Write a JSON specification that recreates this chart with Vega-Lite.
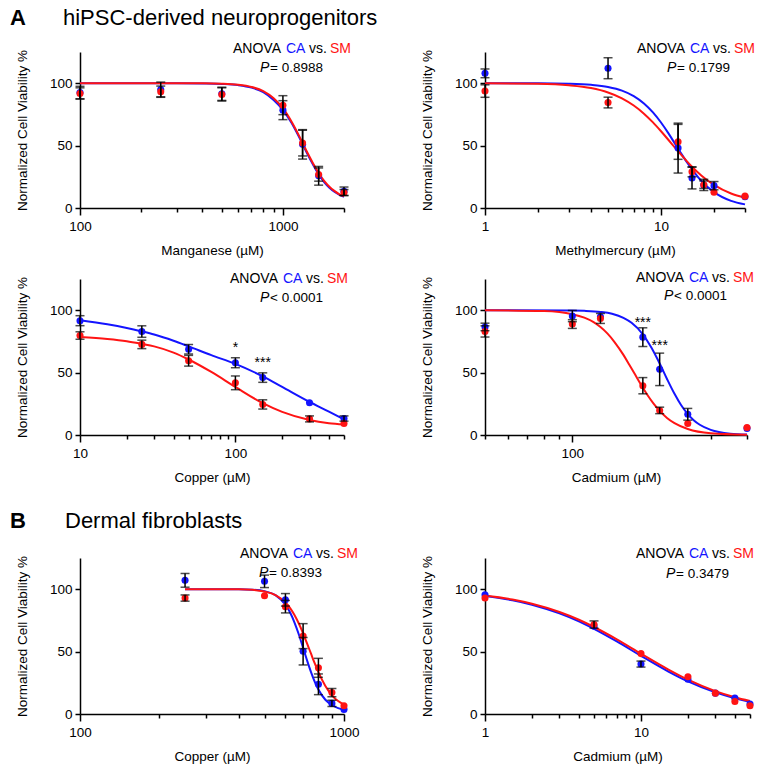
{
  "$schema": "https://vega.github.io/schema/vega-lite/v6.json",
  "background": "white",
  "padding": {"left": 10, "top": 7, "right": 5, "bottom": 5},
  "datasets": {
    "notes": [
      {"panel":"Mn","pvalue":"= 0.8988"},
      {"panel":"MeHg","pvalue":"= 0.1799"},
      {"panel":"CuA","pvalue":"< 0.0001"},
      {"panel":"CdA","pvalue":"< 0.0001"},
      {"panel":"CuB","pvalue":"= 0.8393"},
      {"panel":"CdB","pvalue":"= 0.3479"}
    ],
    "points": [
      {"panel":"Mn","group":"CA","conc":100,"viability":92.5,"err":5},
      {"panel":"Mn","group":"CA","conc":250,"viability":95,"err":5.9},
      {"panel":"Mn","group":"CA","conc":500,"viability":91.5,"err":5.3},
      {"panel":"Mn","group":"CA","conc":1000,"viability":78.4,"err":7.6},
      {"panel":"Mn","group":"CA","conc":1250,"viability":51,"err":11.8},
      {"panel":"Mn","group":"CA","conc":1500,"viability":25.8,"err":7.5},
      {"panel":"Mn","group":"CA","conc":2000,"viability":13.4,"err":3.4},
      {"panel":"Mn","group":"SM","conc":100,"viability":91.8,"err":4.5},
      {"panel":"Mn","group":"SM","conc":250,"viability":93.2,"err":4.5},
      {"panel":"Mn","group":"SM","conc":500,"viability":91,"err":5.3},
      {"panel":"Mn","group":"SM","conc":1000,"viability":82.4,"err":7.6},
      {"panel":"Mn","group":"SM","conc":1250,"viability":52,"err":10.3},
      {"panel":"Mn","group":"SM","conc":1500,"viability":26.8,"err":5.3},
      {"panel":"Mn","group":"SM","conc":2000,"viability":12.4,"err":2.4},
      {"panel":"MeHg","group":"CA","conc":1,"viability":107.9,"err":3.5},
      {"panel":"MeHg","group":"CA","conc":5,"viability":112,"err":8.4},
      {"panel":"MeHg","group":"CA","conc":12.5,"viability":48,"err":20},
      {"panel":"MeHg","group":"CA","conc":15,"viability":24,"err":8.7},
      {"panel":"MeHg","group":"CA","conc":17.5,"viability":18.5,"err":4.5},
      {"panel":"MeHg","group":"CA","conc":20,"viability":17.9,"err":3.3},
      {"panel":"MeHg","group":"CA","conc":30,"viability":9,"err":1},
      {"panel":"MeHg","group":"SM","conc":1,"viability":93.7,"err":5},
      {"panel":"MeHg","group":"SM","conc":5,"viability":84.5,"err":4.3},
      {"panel":"MeHg","group":"SM","conc":12.5,"viability":53,"err":14},
      {"panel":"MeHg","group":"SM","conc":15,"viability":29,"err":4},
      {"panel":"MeHg","group":"SM","conc":17.5,"viability":18.7,"err":3},
      {"panel":"MeHg","group":"SM","conc":20,"viability":12.6,"err":2},
      {"panel":"MeHg","group":"SM","conc":30,"viability":9.5,"err":1},
      {"panel":"CuA","group":"CA","conc":10,"viability":91.6,"err":4},
      {"panel":"CuA","group":"CA","conc":25,"viability":82.9,"err":4.6},
      {"panel":"CuA","group":"CA","conc":50,"viability":68.7,"err":3.8},
      {"panel":"CuA","group":"CA","conc":100,"viability":57.9,"err":4},
      {"panel":"CuA","group":"CA","conc":150,"viability":46,"err":3.8},
      {"panel":"CuA","group":"CA","conc":300,"viability":25.8,"err":1},
      {"panel":"CuA","group":"CA","conc":500,"viability":13.2,"err":2.1},
      {"panel":"CuA","group":"SM","conc":10,"viability":79.7,"err":3},
      {"panel":"CuA","group":"SM","conc":25,"viability":72.6,"err":3.4},
      {"panel":"CuA","group":"SM","conc":50,"viability":59.5,"err":4.3},
      {"panel":"CuA","group":"SM","conc":100,"viability":41.8,"err":5.5},
      {"panel":"CuA","group":"SM","conc":150,"viability":24.5,"err":3.7},
      {"panel":"CuA","group":"SM","conc":300,"viability":12.9,"err":2.4},
      {"panel":"CuA","group":"SM","conc":500,"viability":9.2,"err":1},
      {"panel":"CdA","group":"CA","conc":50,"viability":86.6,"err":3},
      {"panel":"CdA","group":"CA","conc":100,"viability":95.3,"err":4.5},
      {"panel":"CdA","group":"CA","conc":125,"viability":94.7,"err":2},
      {"panel":"CdA","group":"CA","conc":175,"viability":78.4,"err":7.5},
      {"panel":"CdA","group":"CA","conc":200,"viability":52.6,"err":13},
      {"panel":"CdA","group":"CA","conc":250,"viability":16.6,"err":4.7},
      {"panel":"CdA","group":"CA","conc":400,"viability":5.3,"err":1},
      {"panel":"CdA","group":"SM","conc":50,"viability":83,"err":4.5},
      {"panel":"CdA","group":"SM","conc":100,"viability":88.9,"err":3.5},
      {"panel":"CdA","group":"SM","conc":125,"viability":93.4,"err":4},
      {"panel":"CdA","group":"SM","conc":175,"viability":39.5,"err":6.5},
      {"panel":"CdA","group":"SM","conc":200,"viability":19.7,"err":2.6},
      {"panel":"CdA","group":"SM","conc":250,"viability":9.2,"err":2},
      {"panel":"CdA","group":"SM","conc":400,"viability":6,"err":1},
      {"panel":"CuB","group":"CA","conc":250,"viability":107.1,"err":5.5},
      {"panel":"CuB","group":"CA","conc":500,"viability":106.3,"err":5},
      {"panel":"CuB","group":"CA","conc":600,"viability":91.5,"err":5},
      {"panel":"CuB","group":"CA","conc":700,"viability":50.3,"err":11},
      {"panel":"CuB","group":"CA","conc":800,"viability":23.8,"err":8.3},
      {"panel":"CuB","group":"CA","conc":900,"viability":8.5,"err":2.5},
      {"panel":"CuB","group":"CA","conc":1000,"viability":3.7,"err":1},
      {"panel":"CuB","group":"SM","conc":250,"viability":92.9,"err":2.5},
      {"panel":"CuB","group":"SM","conc":500,"viability":94.7,"err":1},
      {"panel":"CuB","group":"SM","conc":600,"viability":86,"err":5},
      {"panel":"CuB","group":"SM","conc":700,"viability":62.4,"err":10},
      {"panel":"CuB","group":"SM","conc":800,"viability":37,"err":7.6},
      {"panel":"CuB","group":"SM","conc":900,"viability":17.2,"err":3.3},
      {"panel":"CuB","group":"SM","conc":1000,"viability":6.6,"err":1},
      {"panel":"CdB","group":"CA","conc":1,"viability":95.5,"err":1},
      {"panel":"CdB","group":"CA","conc":5,"viability":70.4,"err":2},
      {"panel":"CdB","group":"CA","conc":10,"viability":40,"err":2.4},
      {"panel":"CdB","group":"CA","conc":20,"viability":27.8,"err":1},
      {"panel":"CdB","group":"CA","conc":30,"viability":16.7,"err":0.8},
      {"panel":"CdB","group":"CA","conc":40,"viability":12.7,"err":1},
      {"panel":"CdB","group":"CA","conc":50,"viability":8,"err":1},
      {"panel":"CdB","group":"SM","conc":1,"viability":92.9,"err":1},
      {"panel":"CdB","group":"SM","conc":5,"viability":71.7,"err":2.9},
      {"panel":"CdB","group":"SM","conc":10,"viability":48.4,"err":1},
      {"panel":"CdB","group":"SM","conc":20,"viability":29.9,"err":1.5},
      {"panel":"CdB","group":"SM","conc":30,"viability":16.7,"err":0.8},
      {"panel":"CdB","group":"SM","conc":40,"viability":10,"err":1},
      {"panel":"CdB","group":"SM","conc":50,"viability":6.6,"err":1}
    ],
    "curves": [
      {"panel":"Mn","group":"CA","conc":100,"viability":100},{"panel":"Mn","group":"CA","conc":200,"viability":100},{"panel":"Mn","group":"CA","conc":300,"viability":100},{"panel":"Mn","group":"CA","conc":400,"viability":99.8},{"panel":"Mn","group":"CA","conc":500,"viability":99.4},{"panel":"Mn","group":"CA","conc":600,"viability":98.5},{"panel":"Mn","group":"CA","conc":700,"viability":96.5},{"panel":"Mn","group":"CA","conc":800,"viability":92.8},{"panel":"Mn","group":"CA","conc":900,"viability":86.5},{"panel":"Mn","group":"CA","conc":1000,"viability":78.5},{"panel":"Mn","group":"CA","conc":1100,"viability":68.5},{"panel":"Mn","group":"CA","conc":1200,"viability":57},{"panel":"Mn","group":"CA","conc":1300,"viability":45.5},{"panel":"Mn","group":"CA","conc":1400,"viability":35.5},{"panel":"Mn","group":"CA","conc":1500,"viability":27},{"panel":"Mn","group":"CA","conc":1600,"viability":20.5},{"panel":"Mn","group":"CA","conc":1700,"viability":16},{"panel":"Mn","group":"CA","conc":1800,"viability":12.8},{"panel":"Mn","group":"CA","conc":1900,"viability":10.5},{"panel":"Mn","group":"CA","conc":2000,"viability":9},
      {"panel":"Mn","group":"SM","conc":100,"viability":100},{"panel":"Mn","group":"SM","conc":200,"viability":100},{"panel":"Mn","group":"SM","conc":300,"viability":100},{"panel":"Mn","group":"SM","conc":400,"viability":99.9},{"panel":"Mn","group":"SM","conc":500,"viability":99.6},{"panel":"Mn","group":"SM","conc":600,"viability":98.8},{"panel":"Mn","group":"SM","conc":700,"viability":97},{"panel":"Mn","group":"SM","conc":800,"viability":93.7},{"panel":"Mn","group":"SM","conc":900,"viability":88},{"panel":"Mn","group":"SM","conc":1000,"viability":80},{"panel":"Mn","group":"SM","conc":1100,"viability":69.5},{"panel":"Mn","group":"SM","conc":1200,"viability":58},{"panel":"Mn","group":"SM","conc":1300,"viability":46.5},{"panel":"Mn","group":"SM","conc":1400,"viability":36.5},{"panel":"Mn","group":"SM","conc":1500,"viability":28},{"panel":"Mn","group":"SM","conc":1600,"viability":21.5},{"panel":"Mn","group":"SM","conc":1700,"viability":16.8},{"panel":"Mn","group":"SM","conc":1800,"viability":13.5},{"panel":"Mn","group":"SM","conc":1900,"viability":11},{"panel":"Mn","group":"SM","conc":2000,"viability":9.5},
      {"panel":"MeHg","group":"CA","conc":1,"viability":100},{"panel":"MeHg","group":"CA","conc":2,"viability":100},{"panel":"MeHg","group":"CA","conc":3,"viability":99.6},{"panel":"MeHg","group":"CA","conc":4,"viability":98.7},{"panel":"MeHg","group":"CA","conc":5,"viability":97},{"panel":"MeHg","group":"CA","conc":6,"viability":94.1},{"panel":"MeHg","group":"CA","conc":7,"viability":89.7},{"panel":"MeHg","group":"CA","conc":8,"viability":83.8},{"panel":"MeHg","group":"CA","conc":9,"viability":76.6},{"panel":"MeHg","group":"CA","conc":10,"viability":68.5},{"panel":"MeHg","group":"CA","conc":11,"viability":60},{"panel":"MeHg","group":"CA","conc":12,"viability":51.6},{"panel":"MeHg","group":"CA","conc":13,"viability":43.8},{"panel":"MeHg","group":"CA","conc":14,"viability":36.9},{"panel":"MeHg","group":"CA","conc":15,"viability":31},{"panel":"MeHg","group":"CA","conc":17,"viability":21.5},{"panel":"MeHg","group":"CA","conc":20,"viability":12.7},{"panel":"MeHg","group":"CA","conc":25,"viability":5.7},{"panel":"MeHg","group":"CA","conc":30,"viability":2.9},
      {"panel":"MeHg","group":"SM","conc":1,"viability":99.9},{"panel":"MeHg","group":"SM","conc":2,"viability":99.5},{"panel":"MeHg","group":"SM","conc":3,"viability":98.3},{"panel":"MeHg","group":"SM","conc":4,"viability":96.1},{"panel":"MeHg","group":"SM","conc":5,"viability":92.6},{"panel":"MeHg","group":"SM","conc":6,"viability":87.9},{"panel":"MeHg","group":"SM","conc":7,"viability":82.1},{"panel":"MeHg","group":"SM","conc":8,"viability":75.6},{"panel":"MeHg","group":"SM","conc":9,"viability":68.6},{"panel":"MeHg","group":"SM","conc":10,"viability":61.5},{"panel":"MeHg","group":"SM","conc":11,"viability":54.7},{"panel":"MeHg","group":"SM","conc":12,"viability":48.4},{"panel":"MeHg","group":"SM","conc":13,"viability":42.7},{"panel":"MeHg","group":"SM","conc":14,"viability":37.6},{"panel":"MeHg","group":"SM","conc":15,"viability":33.1},{"panel":"MeHg","group":"SM","conc":17,"viability":25.9},{"panel":"MeHg","group":"SM","conc":20,"viability":18.5},{"panel":"MeHg","group":"SM","conc":25,"viability":11.6},{"panel":"MeHg","group":"SM","conc":30,"viability":8.2},
      {"panel":"CuA","group":"CA","conc":10,"viability":92},{"panel":"CuA","group":"CA","conc":15,"viability":88.8},{"panel":"CuA","group":"CA","conc":20,"viability":85.8},{"panel":"CuA","group":"CA","conc":25,"viability":83},{"panel":"CuA","group":"CA","conc":30,"viability":80.5},{"panel":"CuA","group":"CA","conc":40,"viability":75.5},{"panel":"CuA","group":"CA","conc":50,"viability":71},{"panel":"CuA","group":"CA","conc":70,"viability":64},{"panel":"CuA","group":"CA","conc":100,"viability":57},{"panel":"CuA","group":"CA","conc":150,"viability":47},{"panel":"CuA","group":"CA","conc":200,"viability":38.5},{"panel":"CuA","group":"CA","conc":300,"viability":26.5},{"panel":"CuA","group":"CA","conc":400,"viability":18.7},{"panel":"CuA","group":"CA","conc":500,"viability":12.5},
      {"panel":"CuA","group":"SM","conc":10,"viability":78.5},{"panel":"CuA","group":"SM","conc":15,"viability":77},{"panel":"CuA","group":"SM","conc":20,"viability":75.2},{"panel":"CuA","group":"SM","conc":25,"viability":73},{"panel":"CuA","group":"SM","conc":30,"viability":71},{"panel":"CuA","group":"SM","conc":40,"viability":66},{"panel":"CuA","group":"SM","conc":50,"viability":60.5},{"panel":"CuA","group":"SM","conc":70,"viability":50.5},{"panel":"CuA","group":"SM","conc":100,"viability":38.5},{"panel":"CuA","group":"SM","conc":150,"viability":25.5},{"panel":"CuA","group":"SM","conc":200,"viability":18.5},{"panel":"CuA","group":"SM","conc":300,"viability":12},{"panel":"CuA","group":"SM","conc":400,"viability":9.5},{"panel":"CuA","group":"SM","conc":500,"viability":8.5},
      {"panel":"CdA","group":"CA","conc":50,"viability":100},{"panel":"CdA","group":"CA","conc":100,"viability":99.8},{"panel":"CdA","group":"CA","conc":110,"viability":99.5},{"panel":"CdA","group":"CA","conc":125,"viability":98.6},{"panel":"CdA","group":"CA","conc":137,"viability":97.1},{"panel":"CdA","group":"CA","conc":150,"viability":93.9},{"panel":"CdA","group":"CA","conc":160,"viability":89.9},{"panel":"CdA","group":"CA","conc":175,"viability":80.7},{"panel":"CdA","group":"CA","conc":187,"viability":70.3},{"panel":"CdA","group":"CA","conc":200,"viability":57.3},{"panel":"CdA","group":"CA","conc":212,"viability":44.9},{"panel":"CdA","group":"CA","conc":225,"viability":33},{"panel":"CdA","group":"CA","conc":237,"viability":24},{"panel":"CdA","group":"CA","conc":250,"viability":16.7},{"panel":"CdA","group":"CA","conc":262,"viability":11.9},{"panel":"CdA","group":"CA","conc":275,"viability":8.2},{"panel":"CdA","group":"CA","conc":300,"viability":4.1},{"panel":"CdA","group":"CA","conc":350,"viability":1.1},{"panel":"CdA","group":"CA","conc":400,"viability":0.4},
      {"panel":"CdA","group":"SM","conc":50,"viability":100},{"panel":"CdA","group":"SM","conc":80,"viability":99.3},{"panel":"CdA","group":"SM","conc":100,"viability":96.8},{"panel":"CdA","group":"SM","conc":110,"viability":94},{"panel":"CdA","group":"SM","conc":118,"viability":90.6},{"panel":"CdA","group":"SM","conc":125,"viability":86.5},{"panel":"CdA","group":"SM","conc":132,"viability":81.4},{"panel":"CdA","group":"SM","conc":140,"viability":74.3},{"panel":"CdA","group":"SM","conc":150,"viability":64.2},{"panel":"CdA","group":"SM","conc":157,"viability":56.5},{"panel":"CdA","group":"SM","conc":163,"viability":50},{"panel":"CdA","group":"SM","conc":175,"viability":37.8},{"panel":"CdA","group":"SM","conc":182,"viability":31.6},{"panel":"CdA","group":"SM","conc":190,"viability":25.5},{"panel":"CdA","group":"SM","conc":200,"viability":19.3},{"panel":"CdA","group":"SM","conc":212,"viability":13.7},{"panel":"CdA","group":"SM","conc":225,"viability":9.5},{"panel":"CdA","group":"SM","conc":250,"viability":4.8},{"panel":"CdA","group":"SM","conc":300,"viability":1.4},{"panel":"CdA","group":"SM","conc":400,"viability":0.2},
      {"panel":"CuB","group":"CA","conc":250,"viability":100},{"panel":"CuB","group":"CA","conc":300,"viability":100},{"panel":"CuB","group":"CA","conc":400,"viability":99.9},{"panel":"CuB","group":"CA","conc":450,"viability":99.6},{"panel":"CuB","group":"CA","conc":500,"viability":98.4},{"panel":"CuB","group":"CA","conc":550,"viability":95.3},{"panel":"CuB","group":"CA","conc":600,"viability":87.6},{"panel":"CuB","group":"CA","conc":625,"viability":81.3},{"panel":"CuB","group":"CA","conc":650,"viability":73.1},{"panel":"CuB","group":"CA","conc":675,"viability":63.5},{"panel":"CuB","group":"CA","conc":700,"viability":53},{"panel":"CuB","group":"CA","conc":725,"viability":42.8},{"panel":"CuB","group":"CA","conc":750,"viability":33.6},{"panel":"CuB","group":"CA","conc":775,"viability":25.8},{"panel":"CuB","group":"CA","conc":800,"viability":19.6},{"panel":"CuB","group":"CA","conc":850,"viability":11.4},{"panel":"CuB","group":"CA","conc":900,"viability":7.2},{"panel":"CuB","group":"CA","conc":950,"viability":4.7},{"panel":"CuB","group":"CA","conc":1000,"viability":3.5},
      {"panel":"CuB","group":"SM","conc":250,"viability":100},{"panel":"CuB","group":"SM","conc":400,"viability":99.9},{"panel":"CuB","group":"SM","conc":450,"viability":99.5},{"panel":"CuB","group":"SM","conc":500,"viability":98.1},{"panel":"CuB","group":"SM","conc":550,"viability":95.3},{"panel":"CuB","group":"SM","conc":600,"viability":89.4},{"panel":"CuB","group":"SM","conc":625,"viability":84.9},{"panel":"CuB","group":"SM","conc":650,"viability":79.2},{"panel":"CuB","group":"SM","conc":675,"viability":72.3},{"panel":"CuB","group":"SM","conc":700,"viability":64.6},{"panel":"CuB","group":"SM","conc":725,"viability":56.4},{"panel":"CuB","group":"SM","conc":750,"viability":48.3},{"panel":"CuB","group":"SM","conc":775,"viability":40.5},{"panel":"CuB","group":"SM","conc":800,"viability":33.5},{"panel":"CuB","group":"SM","conc":850,"viability":22.4},{"panel":"CuB","group":"SM","conc":900,"viability":15},{"panel":"CuB","group":"SM","conc":950,"viability":10.4},{"panel":"CuB","group":"SM","conc":1000,"viability":7.6},
      {"panel":"CdB","group":"CA","conc":1,"viability":94.6},{"panel":"CdB","group":"CA","conc":1.5,"viability":91.1},{"panel":"CdB","group":"CA","conc":2,"viability":87.6},{"panel":"CdB","group":"CA","conc":3,"viability":80.6},{"panel":"CdB","group":"CA","conc":4,"viability":74.2},{"panel":"CdB","group":"CA","conc":5,"viability":68.2},{"panel":"CdB","group":"CA","conc":7,"viability":58.1},{"panel":"CdB","group":"CA","conc":10,"viability":46.6},{"panel":"CdB","group":"CA","conc":15,"viability":34},{"panel":"CdB","group":"CA","conc":20,"viability":26.1},{"panel":"CdB","group":"CA","conc":30,"viability":17.3},{"panel":"CdB","group":"CA","conc":40,"viability":12.6},{"panel":"CdB","group":"CA","conc":50,"viability":9.7},
      {"panel":"CdB","group":"SM","conc":1,"viability":94.9},{"panel":"CdB","group":"SM","conc":1.5,"viability":91.7},{"panel":"CdB","group":"SM","conc":2,"viability":88.3},{"panel":"CdB","group":"SM","conc":3,"viability":81.7},{"panel":"CdB","group":"SM","conc":4,"viability":75.5},{"panel":"CdB","group":"SM","conc":5,"viability":69.7},{"panel":"CdB","group":"SM","conc":7,"viability":59.8},{"panel":"CdB","group":"SM","conc":10,"viability":48.3},{"panel":"CdB","group":"SM","conc":15,"viability":35.6},{"panel":"CdB","group":"SM","conc":20,"viability":27.5},{"panel":"CdB","group":"SM","conc":30,"viability":18.3},{"panel":"CdB","group":"SM","conc":40,"viability":13.4},{"panel":"CdB","group":"SM","conc":50,"viability":10.4}
    ]
  },
  "spacing": 26,
  "vconcat": [
    {
      "spacing": 14,
      "vconcat": [
        {
          "spacing": 141,
          "bounds": "flush",
          "hconcat": [
            {
              "width": 264, "height": 156,
              "title": {"text": "A", "fontWeight": "bold", "dx": -70, "offset": 12},
              "layer": [
                {
                  "encoding": {
                    "x": {"field": "conc", "type": "quantitative", "scale": {"type": "log", "domain": [100, 2000], "nice": false},
                      "axis": {"title": "Manganese (µM)", "values": [100,200,300,400,500,600,700,800,900,1000,2000], "format": "d",
                        "labelExpr": "abs(log(datum.value)/LN10 - round(log(datum.value)/LN10)) < 0.000001 ? datum.label : ''",
                        "tickSize": {"condition": {"test": "abs(log(datum.value)/LN10 - round(log(datum.value)/LN10)) < 0.000001", "value": 7}, "value": 4}}},
                    "y": {"field": "viability", "type": "quantitative", "scale": {"domain": [0, 125], "nice": false}, "axis": {"values": [0, 50, 100], "title": "Normalized Cell Viability %"}}
                  },
                  "layer": [
                    {"data": {"name": "curves"}, "transform": [{"filter": "datum.panel === 'Mn'"}], "mark": {"type": "line", "strokeWidth": 2, "interpolate": "monotone"}, "encoding": {"color": {"field": "group", "type": "nominal", "scale": {"domain": ["CA", "SM"], "range": ["#1414ff", "#ff1414"]}, "legend": null}}},
                    {"data": {"name": "points"}, "transform": [{"filter": "datum.panel === 'Mn'"}], "mark": {"type": "circle", "size": 50, "opacity": 1}, "encoding": {"color": {"field": "group", "type": "nominal", "scale": {"domain": ["CA", "SM"], "range": ["#1414ff", "#ff1414"]}, "legend": null}}},
                    {"data": {"name": "points"}, "transform": [{"filter": "datum.panel === 'Mn' && datum.err > 2"}], "mark": {"type": "errorbar", "ticks": {"size": 9}, "thickness": 1.5, "color": "black"}, "encoding": {"yError": {"field": "err"}}}
                  ]
                },
                {"data": {"name": "notes"}, "transform": [{"filter": "datum.panel === 'Mn'"}], "mark": {"type": "text", "text": "ANOVA", "align": "left", "baseline": "alphabetic", "fontSize": 14, "dx": -111, "dy": 1, "color": "black"}, "encoding": {"x": {"datum": 2000}, "y": {"datum": 125}}},
                {"data": {"name": "notes"}, "transform": [{"filter": "datum.panel === 'Mn'"}], "mark": {"type": "text", "text": "CA", "align": "left", "baseline": "alphabetic", "fontSize": 14, "dx": -58, "dy": 1, "color": "#1414ff"}, "encoding": {"x": {"datum": 2000}, "y": {"datum": 125}}},
                {"data": {"name": "notes"}, "transform": [{"filter": "datum.panel === 'Mn'"}], "mark": {"type": "text", "text": "vs.", "align": "left", "baseline": "alphabetic", "fontSize": 14, "dx": -35, "dy": 1, "color": "black"}, "encoding": {"x": {"datum": 2000}, "y": {"datum": 125}}},
                {"data": {"name": "notes"}, "transform": [{"filter": "datum.panel === 'Mn'"}], "mark": {"type": "text", "text": "SM", "align": "left", "baseline": "alphabetic", "fontSize": 14, "dx": -14, "dy": 1, "color": "#ff1414"}, "encoding": {"x": {"datum": 2000}, "y": {"datum": 125}}},
                {"data": {"name": "notes"}, "transform": [{"filter": "datum.panel === 'Mn'"}], "mark": {"type": "text", "text": "P", "fontStyle": "italic", "align": "left", "baseline": "alphabetic", "fontSize": 14, "dx": -84, "dy": 20, "color": "black"}, "encoding": {"x": {"datum": 2000}, "y": {"datum": 125}}},
                {"data": {"name": "notes"}, "transform": [{"filter": "datum.panel === 'Mn'"}], "mark": {"type": "text", "align": "left", "baseline": "alphabetic", "fontSize": 13.5, "dx": -74, "dy": 20, "color": "black"}, "encoding": {"x": {"datum": 2000}, "y": {"datum": 125}, "text": {"field": "pvalue"}}}
              ]
            },
            {
              "width": 260, "height": 156,
              "title": {"text": "hiPSC-derived neuroprogenitors", "dx": -422, "offset": 12},
              "layer": [
                {
                  "encoding": {
                    "x": {"field": "conc", "type": "quantitative", "scale": {"type": "log", "domain": [1, 30], "nice": false},
                      "axis": {"title": "Methylmercury (µM)", "values": [1,2,3,4,5,6,7,8,9,10,20,30], "format": "d",
                        "labelExpr": "abs(log(datum.value)/LN10 - round(log(datum.value)/LN10)) < 0.000001 ? datum.label : ''",
                        "tickSize": {"condition": {"test": "abs(log(datum.value)/LN10 - round(log(datum.value)/LN10)) < 0.000001", "value": 7}, "value": 4}}},
                    "y": {"field": "viability", "type": "quantitative", "scale": {"domain": [0, 125], "nice": false}, "axis": {"values": [0, 50, 100], "title": "Normalized Cell Viability %"}}
                  },
                  "layer": [
                    {"data": {"name": "curves"}, "transform": [{"filter": "datum.panel === 'MeHg'"}], "mark": {"type": "line", "strokeWidth": 2, "interpolate": "monotone"}, "encoding": {"color": {"field": "group", "type": "nominal", "scale": {"domain": ["CA", "SM"], "range": ["#1414ff", "#ff1414"]}, "legend": null}}},
                    {"data": {"name": "points"}, "transform": [{"filter": "datum.panel === 'MeHg'"}], "mark": {"type": "circle", "size": 50, "opacity": 1}, "encoding": {"color": {"field": "group", "type": "nominal", "scale": {"domain": ["CA", "SM"], "range": ["#1414ff", "#ff1414"]}, "legend": null}}},
                    {"data": {"name": "points"}, "transform": [{"filter": "datum.panel === 'MeHg' && datum.err > 2"}], "mark": {"type": "errorbar", "ticks": {"size": 9}, "thickness": 1.5, "color": "black"}, "encoding": {"yError": {"field": "err"}}}
                  ]
                },
                {"data": {"name": "notes"}, "transform": [{"filter": "datum.panel === 'MeHg'"}], "mark": {"type": "text", "text": "ANOVA", "align": "left", "baseline": "alphabetic", "fontSize": 14, "dx": -108, "dy": 1, "color": "black"}, "encoding": {"x": {"datum": 30}, "y": {"datum": 125}}},
                {"data": {"name": "notes"}, "transform": [{"filter": "datum.panel === 'MeHg'"}], "mark": {"type": "text", "text": "CA", "align": "left", "baseline": "alphabetic", "fontSize": 14, "dx": -55, "dy": 1, "color": "#1414ff"}, "encoding": {"x": {"datum": 30}, "y": {"datum": 125}}},
                {"data": {"name": "notes"}, "transform": [{"filter": "datum.panel === 'MeHg'"}], "mark": {"type": "text", "text": "vs.", "align": "left", "baseline": "alphabetic", "fontSize": 14, "dx": -32, "dy": 1, "color": "black"}, "encoding": {"x": {"datum": 30}, "y": {"datum": 125}}},
                {"data": {"name": "notes"}, "transform": [{"filter": "datum.panel === 'MeHg'"}], "mark": {"type": "text", "text": "SM", "align": "left", "baseline": "alphabetic", "fontSize": 14, "dx": -11, "dy": 1, "color": "#ff1414"}, "encoding": {"x": {"datum": 30}, "y": {"datum": 125}}},
                {"data": {"name": "notes"}, "transform": [{"filter": "datum.panel === 'MeHg'"}], "mark": {"type": "text", "text": "P", "fontStyle": "italic", "align": "left", "baseline": "alphabetic", "fontSize": 14, "dx": -78, "dy": 20, "color": "black"}, "encoding": {"x": {"datum": 30}, "y": {"datum": 125}}},
                {"data": {"name": "notes"}, "transform": [{"filter": "datum.panel === 'MeHg'"}], "mark": {"type": "text", "align": "left", "baseline": "alphabetic", "fontSize": 13.5, "dx": -68, "dy": 20, "color": "black"}, "encoding": {"x": {"datum": 30}, "y": {"datum": 125}, "text": {"field": "pvalue"}}}
              ]
            }
          ]
        },
        {
          "spacing": 141,
          "bounds": "flush",
          "hconcat": [
            {
              "width": 264, "height": 156,
              "layer": [
                {
                  "encoding": {
                    "x": {"field": "conc", "type": "quantitative", "scale": {"type": "log", "domain": [10, 500], "nice": false},
                      "axis": {"title": "Copper (µM)", "values": [10,20,30,40,50,60,70,80,90,100,200,300,400,500], "format": "d",
                        "labelExpr": "abs(log(datum.value)/LN10 - round(log(datum.value)/LN10)) < 0.000001 ? datum.label : ''",
                        "tickSize": {"condition": {"test": "abs(log(datum.value)/LN10 - round(log(datum.value)/LN10)) < 0.000001", "value": 7}, "value": 4}}},
                    "y": {"field": "viability", "type": "quantitative", "scale": {"domain": [0, 125], "nice": false}, "axis": {"values": [0, 50, 100], "title": "Normalized Cell Viability %"}}
                  },
                  "layer": [
                    {"data": {"name": "curves"}, "transform": [{"filter": "datum.panel === 'CuA'"}], "mark": {"type": "line", "strokeWidth": 2, "interpolate": "monotone"}, "encoding": {"color": {"field": "group", "type": "nominal", "scale": {"domain": ["CA", "SM"], "range": ["#1414ff", "#ff1414"]}, "legend": null}}},
                    {"data": {"name": "points"}, "transform": [{"filter": "datum.panel === 'CuA'"}], "mark": {"type": "circle", "size": 50, "opacity": 1}, "encoding": {"color": {"field": "group", "type": "nominal", "scale": {"domain": ["CA", "SM"], "range": ["#1414ff", "#ff1414"]}, "legend": null}}},
                    {"data": {"name": "points"}, "transform": [{"filter": "datum.panel === 'CuA' && datum.err > 2"}], "mark": {"type": "errorbar", "ticks": {"size": 9}, "thickness": 1.5, "color": "black"}, "encoding": {"yError": {"field": "err"}}}
                  ]
                },
                {"data": {"name": "notes"}, "transform": [{"filter": "datum.panel === 'CuA'"}], "mark": {"type": "text", "text": "*", "align": "center", "baseline": "alphabetic", "fontSize": 14, "dy": 8, "color": "black"}, "encoding": {"x": {"datum": 100}, "y": {"datum": 72.9}}},
                {"data": {"name": "notes"}, "transform": [{"filter": "datum.panel === 'CuA'"}], "mark": {"type": "text", "text": "***", "align": "center", "baseline": "alphabetic", "fontSize": 14, "dy": 8, "color": "black"}, "encoding": {"x": {"datum": 150}, "y": {"datum": 61}}},
                {"data": {"name": "notes"}, "transform": [{"filter": "datum.panel === 'CuA'"}], "mark": {"type": "text", "text": "ANOVA", "align": "left", "baseline": "alphabetic", "fontSize": 14, "dx": -114, "dy": 4, "color": "black"}, "encoding": {"x": {"datum": 500}, "y": {"datum": 125}}},
                {"data": {"name": "notes"}, "transform": [{"filter": "datum.panel === 'CuA'"}], "mark": {"type": "text", "text": "CA", "align": "left", "baseline": "alphabetic", "fontSize": 14, "dx": -61, "dy": 4, "color": "#1414ff"}, "encoding": {"x": {"datum": 500}, "y": {"datum": 125}}},
                {"data": {"name": "notes"}, "transform": [{"filter": "datum.panel === 'CuA'"}], "mark": {"type": "text", "text": "vs.", "align": "left", "baseline": "alphabetic", "fontSize": 14, "dx": -38, "dy": 4, "color": "black"}, "encoding": {"x": {"datum": 500}, "y": {"datum": 125}}},
                {"data": {"name": "notes"}, "transform": [{"filter": "datum.panel === 'CuA'"}], "mark": {"type": "text", "text": "SM", "align": "left", "baseline": "alphabetic", "fontSize": 14, "dx": -17, "dy": 4, "color": "#ff1414"}, "encoding": {"x": {"datum": 500}, "y": {"datum": 125}}},
                {"data": {"name": "notes"}, "transform": [{"filter": "datum.panel === 'CuA'"}], "mark": {"type": "text", "text": "P", "fontStyle": "italic", "align": "left", "baseline": "alphabetic", "fontSize": 14, "dx": -84, "dy": 23, "color": "black"}, "encoding": {"x": {"datum": 500}, "y": {"datum": 125}}},
                {"data": {"name": "notes"}, "transform": [{"filter": "datum.panel === 'CuA'"}], "mark": {"type": "text", "align": "left", "baseline": "alphabetic", "fontSize": 13.5, "dx": -74, "dy": 23, "color": "black"}, "encoding": {"x": {"datum": 500}, "y": {"datum": 125}, "text": {"field": "pvalue"}}}
              ]
            },
            {
              "width": 262, "height": 156,
              "layer": [
                {
                  "encoding": {
                    "x": {"field": "conc", "type": "quantitative", "scale": {"type": "log", "domain": [50, 400], "nice": false},
                      "axis": {"title": "Cadmium (µM)", "values": [50,60,70,80,90,100,200,300,400], "format": "d",
                        "labelExpr": "abs(log(datum.value)/LN10 - round(log(datum.value)/LN10)) < 0.000001 ? datum.label : ''",
                        "tickSize": {"condition": {"test": "abs(log(datum.value)/LN10 - round(log(datum.value)/LN10)) < 0.000001", "value": 7}, "value": 4}}},
                    "y": {"field": "viability", "type": "quantitative", "scale": {"domain": [0, 125], "nice": false}, "axis": {"values": [0, 50, 100], "title": "Normalized Cell Viability %"}}
                  },
                  "layer": [
                    {"data": {"name": "curves"}, "transform": [{"filter": "datum.panel === 'CdA'"}], "mark": {"type": "line", "strokeWidth": 2, "interpolate": "monotone"}, "encoding": {"color": {"field": "group", "type": "nominal", "scale": {"domain": ["CA", "SM"], "range": ["#1414ff", "#ff1414"]}, "legend": null}}},
                    {"data": {"name": "points"}, "transform": [{"filter": "datum.panel === 'CdA'"}], "mark": {"type": "circle", "size": 50, "opacity": 1}, "encoding": {"color": {"field": "group", "type": "nominal", "scale": {"domain": ["CA", "SM"], "range": ["#1414ff", "#ff1414"]}, "legend": null}}},
                    {"data": {"name": "points"}, "transform": [{"filter": "datum.panel === 'CdA' && datum.err > 2"}], "mark": {"type": "errorbar", "ticks": {"size": 9}, "thickness": 1.5, "color": "black"}, "encoding": {"yError": {"field": "err"}}}
                  ]
                },
                {"data": {"name": "notes"}, "transform": [{"filter": "datum.panel === 'CdA'"}], "mark": {"type": "text", "text": "***", "align": "center", "baseline": "alphabetic", "fontSize": 14, "dy": 8, "color": "black"}, "encoding": {"x": {"datum": 175}, "y": {"datum": 92.9}}},
                {"data": {"name": "notes"}, "transform": [{"filter": "datum.panel === 'CdA'"}], "mark": {"type": "text", "text": "***", "align": "center", "baseline": "alphabetic", "fontSize": 14, "dy": 8, "color": "black"}, "encoding": {"x": {"datum": 200}, "y": {"datum": 74.5}}},
                {"data": {"name": "notes"}, "transform": [{"filter": "datum.panel === 'CdA'"}], "mark": {"type": "text", "text": "ANOVA", "align": "left", "baseline": "alphabetic", "fontSize": 14, "dx": -111, "dy": 3, "color": "black"}, "encoding": {"x": {"datum": 400}, "y": {"datum": 125}}},
                {"data": {"name": "notes"}, "transform": [{"filter": "datum.panel === 'CdA'"}], "mark": {"type": "text", "text": "CA", "align": "left", "baseline": "alphabetic", "fontSize": 14, "dx": -58, "dy": 3, "color": "#1414ff"}, "encoding": {"x": {"datum": 400}, "y": {"datum": 125}}},
                {"data": {"name": "notes"}, "transform": [{"filter": "datum.panel === 'CdA'"}], "mark": {"type": "text", "text": "vs.", "align": "left", "baseline": "alphabetic", "fontSize": 14, "dx": -35, "dy": 3, "color": "black"}, "encoding": {"x": {"datum": 400}, "y": {"datum": 125}}},
                {"data": {"name": "notes"}, "transform": [{"filter": "datum.panel === 'CdA'"}], "mark": {"type": "text", "text": "SM", "align": "left", "baseline": "alphabetic", "fontSize": 14, "dx": -14, "dy": 3, "color": "#ff1414"}, "encoding": {"x": {"datum": 400}, "y": {"datum": 125}}},
                {"data": {"name": "notes"}, "transform": [{"filter": "datum.panel === 'CdA'"}], "mark": {"type": "text", "text": "P", "fontStyle": "italic", "align": "left", "baseline": "alphabetic", "fontSize": 14, "dx": -83, "dy": 21, "color": "black"}, "encoding": {"x": {"datum": 400}, "y": {"datum": 125}}},
                {"data": {"name": "notes"}, "transform": [{"filter": "datum.panel === 'CdA'"}], "mark": {"type": "text", "align": "left", "baseline": "alphabetic", "fontSize": 13.5, "dx": -73, "dy": 21, "color": "black"}, "encoding": {"x": {"datum": 400}, "y": {"datum": 125}, "text": {"field": "pvalue"}}}
              ]
            }
          ]
        }
      ]
    },
    {
      "spacing": 141,
      "bounds": "flush",
      "hconcat": [
        {
          "width": 264, "height": 156,
          "title": {"text": "B", "fontWeight": "bold", "dx": -70, "offset": 14},
          "layer": [
            {
              "encoding": {
                "x": {"field": "conc", "type": "quantitative", "scale": {"type": "log", "domain": [100, 1000], "nice": false},
                  "axis": {"title": "Copper (µM)", "values": [100,200,300,400,500,600,700,800,900,1000], "format": "d",
                    "labelExpr": "abs(log(datum.value)/LN10 - round(log(datum.value)/LN10)) < 0.000001 ? datum.label : ''",
                    "tickSize": {"condition": {"test": "abs(log(datum.value)/LN10 - round(log(datum.value)/LN10)) < 0.000001", "value": 7}, "value": 4}}},
                "y": {"field": "viability", "type": "quantitative", "scale": {"domain": [0, 125], "nice": false}, "axis": {"values": [0, 50, 100], "title": "Normalized Cell Viability %"}}
              },
              "layer": [
                {"data": {"name": "curves"}, "transform": [{"filter": "datum.panel === 'CuB'"}], "mark": {"type": "line", "strokeWidth": 2, "interpolate": "monotone"}, "encoding": {"color": {"field": "group", "type": "nominal", "scale": {"domain": ["CA", "SM"], "range": ["#1414ff", "#ff1414"]}, "legend": null}}},
                {"data": {"name": "points"}, "transform": [{"filter": "datum.panel === 'CuB'"}], "mark": {"type": "circle", "size": 50, "opacity": 1}, "encoding": {"color": {"field": "group", "type": "nominal", "scale": {"domain": ["CA", "SM"], "range": ["#1414ff", "#ff1414"]}, "legend": null}}},
                {"data": {"name": "points"}, "transform": [{"filter": "datum.panel === 'CuB' && datum.err > 2"}], "mark": {"type": "errorbar", "ticks": {"size": 9}, "thickness": 1.5, "color": "black"}, "encoding": {"yError": {"field": "err"}}}
              ]
            },
            {"data": {"name": "notes"}, "transform": [{"filter": "datum.panel === 'CuB'"}], "mark": {"type": "text", "text": "ANOVA", "align": "left", "baseline": "alphabetic", "fontSize": 14, "dx": -104, "dy": 0, "color": "black"}, "encoding": {"x": {"datum": 1000}, "y": {"datum": 125}}},
            {"data": {"name": "notes"}, "transform": [{"filter": "datum.panel === 'CuB'"}], "mark": {"type": "text", "text": "CA", "align": "left", "baseline": "alphabetic", "fontSize": 14, "dx": -51, "dy": 0, "color": "#1414ff"}, "encoding": {"x": {"datum": 1000}, "y": {"datum": 125}}},
            {"data": {"name": "notes"}, "transform": [{"filter": "datum.panel === 'CuB'"}], "mark": {"type": "text", "text": "vs.", "align": "left", "baseline": "alphabetic", "fontSize": 14, "dx": -28, "dy": 0, "color": "black"}, "encoding": {"x": {"datum": 1000}, "y": {"datum": 125}}},
            {"data": {"name": "notes"}, "transform": [{"filter": "datum.panel === 'CuB'"}], "mark": {"type": "text", "text": "SM", "align": "left", "baseline": "alphabetic", "fontSize": 14, "dx": -7, "dy": 0, "color": "#ff1414"}, "encoding": {"x": {"datum": 1000}, "y": {"datum": 125}}},
            {"data": {"name": "notes"}, "transform": [{"filter": "datum.panel === 'CuB'"}], "mark": {"type": "text", "text": "P", "fontStyle": "italic", "align": "left", "baseline": "alphabetic", "fontSize": 14, "dx": -85, "dy": 19, "color": "black"}, "encoding": {"x": {"datum": 1000}, "y": {"datum": 125}}},
            {"data": {"name": "notes"}, "transform": [{"filter": "datum.panel === 'CuB'"}], "mark": {"type": "text", "align": "left", "baseline": "alphabetic", "fontSize": 13.5, "dx": -75, "dy": 19, "color": "black"}, "encoding": {"x": {"datum": 1000}, "y": {"datum": 125}, "text": {"field": "pvalue"}}}
          ]
        },
        {
          "width": 265, "height": 156,
          "title": {"text": "Dermal fibroblasts", "dx": -420, "offset": 14},
          "layer": [
            {
              "encoding": {
                "x": {"field": "conc", "type": "quantitative", "scale": {"type": "log", "domain": [1, 50], "nice": false},
                  "axis": {"title": "Cadmium (µM)", "values": [1,2,3,4,5,6,7,8,9,10,20,30,40,50], "format": "d",
                    "labelExpr": "abs(log(datum.value)/LN10 - round(log(datum.value)/LN10)) < 0.000001 ? datum.label : ''",
                    "tickSize": {"condition": {"test": "abs(log(datum.value)/LN10 - round(log(datum.value)/LN10)) < 0.000001", "value": 7}, "value": 4}}},
                "y": {"field": "viability", "type": "quantitative", "scale": {"domain": [0, 125], "nice": false}, "axis": {"values": [0, 50, 100], "title": "Normalized Cell Viability %"}}
              },
              "layer": [
                {"data": {"name": "curves"}, "transform": [{"filter": "datum.panel === 'CdB'"}], "mark": {"type": "line", "strokeWidth": 2, "interpolate": "monotone"}, "encoding": {"color": {"field": "group", "type": "nominal", "scale": {"domain": ["CA", "SM"], "range": ["#1414ff", "#ff1414"]}, "legend": null}}},
                {"data": {"name": "points"}, "transform": [{"filter": "datum.panel === 'CdB'"}], "mark": {"type": "circle", "size": 50, "opacity": 1}, "encoding": {"color": {"field": "group", "type": "nominal", "scale": {"domain": ["CA", "SM"], "range": ["#1414ff", "#ff1414"]}, "legend": null}}},
                {"data": {"name": "points"}, "transform": [{"filter": "datum.panel === 'CdB' && datum.err > 2"}], "mark": {"type": "errorbar", "ticks": {"size": 9}, "thickness": 1.5, "color": "black"}, "encoding": {"yError": {"field": "err"}}}
              ]
            },
            {"data": {"name": "notes"}, "transform": [{"filter": "datum.panel === 'CdB'"}], "mark": {"type": "text", "text": "ANOVA", "align": "left", "baseline": "alphabetic", "fontSize": 14, "dx": -114, "dy": 0, "color": "black"}, "encoding": {"x": {"datum": 50}, "y": {"datum": 125}}},
            {"data": {"name": "notes"}, "transform": [{"filter": "datum.panel === 'CdB'"}], "mark": {"type": "text", "text": "CA", "align": "left", "baseline": "alphabetic", "fontSize": 14, "dx": -61, "dy": 0, "color": "#1414ff"}, "encoding": {"x": {"datum": 50}, "y": {"datum": 125}}},
            {"data": {"name": "notes"}, "transform": [{"filter": "datum.panel === 'CdB'"}], "mark": {"type": "text", "text": "vs.", "align": "left", "baseline": "alphabetic", "fontSize": 14, "dx": -38, "dy": 0, "color": "black"}, "encoding": {"x": {"datum": 50}, "y": {"datum": 125}}},
            {"data": {"name": "notes"}, "transform": [{"filter": "datum.panel === 'CdB'"}], "mark": {"type": "text", "text": "SM", "align": "left", "baseline": "alphabetic", "fontSize": 14, "dx": -17, "dy": 0, "color": "#ff1414"}, "encoding": {"x": {"datum": 50}, "y": {"datum": 125}}},
            {"data": {"name": "notes"}, "transform": [{"filter": "datum.panel === 'CdB'"}], "mark": {"type": "text", "text": "P", "fontStyle": "italic", "align": "left", "baseline": "alphabetic", "fontSize": 14, "dx": -84, "dy": 20, "color": "black"}, "encoding": {"x": {"datum": 50}, "y": {"datum": 125}}},
            {"data": {"name": "notes"}, "transform": [{"filter": "datum.panel === 'CdB'"}], "mark": {"type": "text", "align": "left", "baseline": "alphabetic", "fontSize": 13.5, "dx": -74, "dy": 20, "color": "black"}, "encoding": {"x": {"datum": 50}, "y": {"datum": 125}, "text": {"field": "pvalue"}}}
          ]
        }
      ]
    }
  ],
  "config": {
    "view": {"stroke": null},
    "font": "Liberation Sans",
    "axis": {"domainColor": "#000000", "domainWidth": 1.5, "tickColor": "#000000", "tickWidth": 1.5, "labelColor": "#000000", "labelFontSize": 13.5, "titleFontSize": 13.5, "titleFontWeight": "normal", "titleColor": "#000000", "grid": false, "labelFlush": false, "labelOverlap": false},
    "axisX": {"labelPadding": 4, "titlePadding": 11},
    "axisY": {"tickSize": 5, "labelPadding": 3, "titlePadding": 20},
    "title": {"fontSize": 22, "fontWeight": "normal", "color": "#000000", "anchor": "start", "frame": "group", "baseline": "alphabetic"}
  }
}
